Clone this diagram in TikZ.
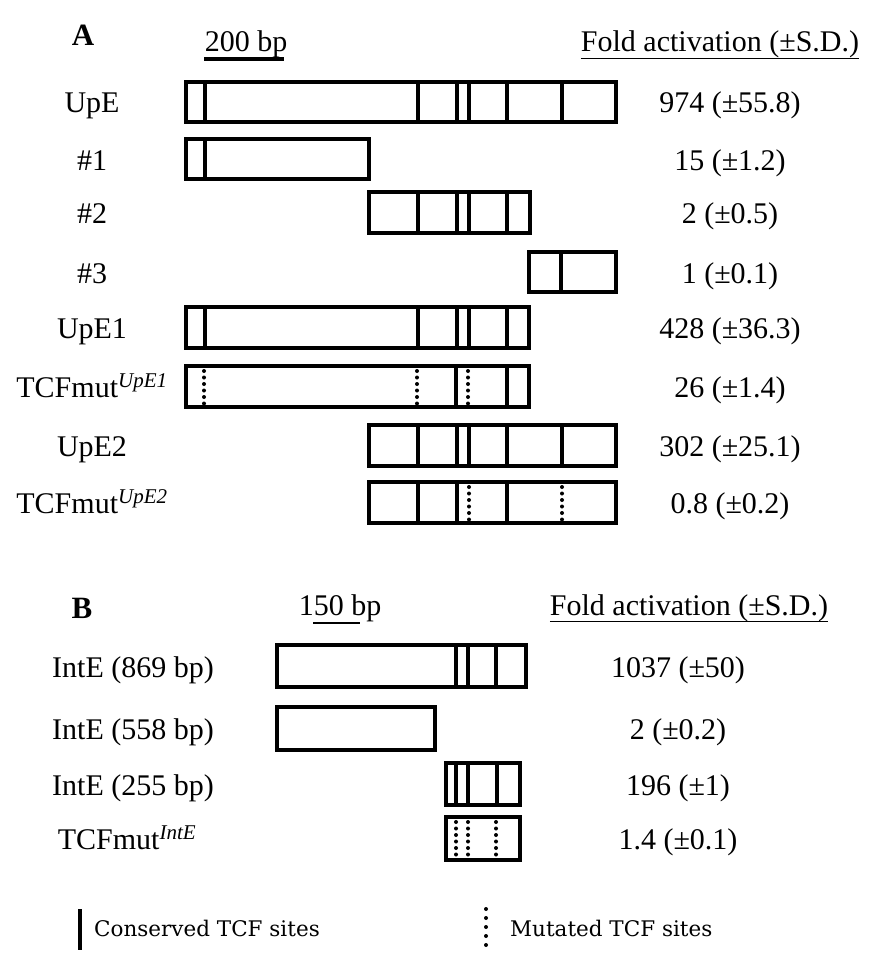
\documentclass[tikz,border=0pt]{standalone}
\usepackage{fontspec}
\setmainfont{Liberation Serif}
\newfontfamily\legendfont{DejaVu Serif}
\usetikzlibrary{positioning}

\begin{document}
\begin{tikzpicture}[x=1pt,y=-1pt,
    box/.style={line width=3.4pt},
    site/.style={line width=3.2pt},
    mutsite/.style={line width=4pt,line cap=round,dash pattern=on 0pt off 6.5pt},
    txt/.style={anchor=base,inner sep=0pt,font=\fontsize{30}{36}\selectfont},
    panel/.style={txt,font=\fontsize{31}{36}\selectfont\bfseries},
    uline/.style={line width=1.8pt}]
  \useasboundingbox (0,0) rectangle (885,963);

  % Panel A: headers
  \node[panel] (pA) at (83,46) {A};
  \node[txt] (scaleA) at (246,52) {200 bp};
  \draw[line width=3.4pt] (204,59) -- (284,59);
  \node[txt] (foldA) at (720,52) {Fold activation (±S.D.)};
  \draw[uline] (foldA.south west) -- (foldA.south east);

  % Panel A: constructs
  \draw[box] (186,82) rectangle (616,122);
  \foreach \x in {205,418,457,469,507,562} \draw[site] (\x,82) -- (\x,122);
  \draw[box] (186,139) rectangle (369,179);
  \draw[site] (205,139) -- (205,179);
  \draw[box] (369,192) rectangle (530,233);
  \foreach \x in {418,457,469,507} \draw[site] (\x,192) -- (\x,233);
  \draw[box] (529,252) rectangle (616,292);
  \draw[site] (561,252) -- (561,292);
  \draw[box] (186,307) rectangle (529,348);
  \foreach \x in {205,418,457,469,507} \draw[site] (\x,307) -- (\x,348);
  \draw[box] (186,366) rectangle (529,407);
  \foreach \x in {456,507} \draw[site] (\x,366) -- (\x,407);
  \foreach \x in {204,417,468} \draw[mutsite] (\x,371) -- (\x,404);
  \draw[box] (369,425) rectangle (616,466);
  \foreach \x in {418,457,469,507,562} \draw[site] (\x,425) -- (\x,466);
  \draw[box] (369,482) rectangle (616,523);
  \foreach \x in {418,457,507} \draw[site] (\x,482) -- (\x,523);
  \foreach \x in {469,562} \draw[mutsite] (\x,487) -- (\x,520);

  % Panel A: names and activation values
  \node[txt] (upe) at (92,113) {UpE};
  \node[txt] (frag1) at (92,170) {\#1};
  \node[txt] (frag2) at (92,223) {\#2};
  \node[txt] (frag3) at (92,283) {\#3};
  \node[txt] (upe1) at (92,338) {UpE1};
  \node[txt] (mut1) at (92,397) {TCFmut\textsuperscript{\itshape UpE1}};
  \node[txt] (upe2) at (92,456) {UpE2};
  \node[txt] (mut2) at (92,513) {TCFmut\textsuperscript{\itshape UpE2}};
  \node[txt] (vupe) at (730,113) {974 (±55.8)};
  \node[txt] (vfrag1) at (730,170) {15 (±1.2)};
  \node[txt] (vfrag2) at (730,223) {2 (±0.5)};
  \node[txt] (vfrag3) at (730,283) {1 (±0.1)};
  \node[txt] (vupe1) at (730,338) {428 (±36.3)};
  \node[txt] (vmut1) at (730,397) {26 (±1.4)};
  \node[txt] (vupe2) at (730,456) {302 (±25.1)};
  \node[txt] (vmut2) at (730,513) {0.8 (±0.2)};

  % Panel B: headers
  \node[panel] (pB) at (82,618) {B};
  \node[txt] (scaleB) at (340,615) {150 bp};
  \draw[uline] (313,623) -- (360,623);
  \node[txt] (foldB) at (689,615) {Fold activation (±S.D.)};
  \draw[uline] (foldB.south west) -- (foldB.south east);

  % Panel B: constructs
  \draw[box] (277,645) rectangle (526,687);
  \foreach \x in {456,468,496} \draw[site] (\x,645) -- (\x,687);
  \draw[box] (277,707) rectangle (435,750);
  \draw[box] (446,763) rectangle (520,805);
  \foreach \x in {456,468,497} \draw[site] (\x,763) -- (\x,805);
  \draw[box] (446,817) rectangle (520,860);
  \foreach \x in {456,468,496} \draw[mutsite] (\x,822) -- (\x,856);

  % Panel B: names and activation values
  \node[txt] (inte1) at (133,677) {IntE (869 bp)};
  \node[txt] (inte2) at (133,739) {IntE (558 bp)};
  \node[txt] (inte3) at (133,795) {IntE (255 bp)};
  \node[txt] (mutint) at (127,849) {TCFmut\textsuperscript{\itshape IntE}};
  \node[txt] (vinte1) at (678,677) {1037 (±50)};
  \node[txt] (vinte2) at (678,739) {2 (±0.2)};
  \node[txt] (vinte3) at (678,795) {196 (±1)};
  \node[txt] (vmutint) at (678,849) {1.4 (±0.1)};

  % Legend
  \draw[line width=3.4pt] (80,909) -- (80,950);
  \node[anchor=base west,inner sep=0pt,font=\legendfont\fontsize{21.5}{26}\selectfont] (lgcons) at (94,936) {Conserved TCF sites};
  \draw[line width=4pt,line cap=round,dash pattern=on 0pt off 9pt] (486,909) -- (486,946);
  \node[anchor=base west,inner sep=0pt,font=\legendfont\fontsize{21.5}{26}\selectfont] (lgmut) at (510,936) {Mutated TCF sites};
\end{tikzpicture}
\end{document}
